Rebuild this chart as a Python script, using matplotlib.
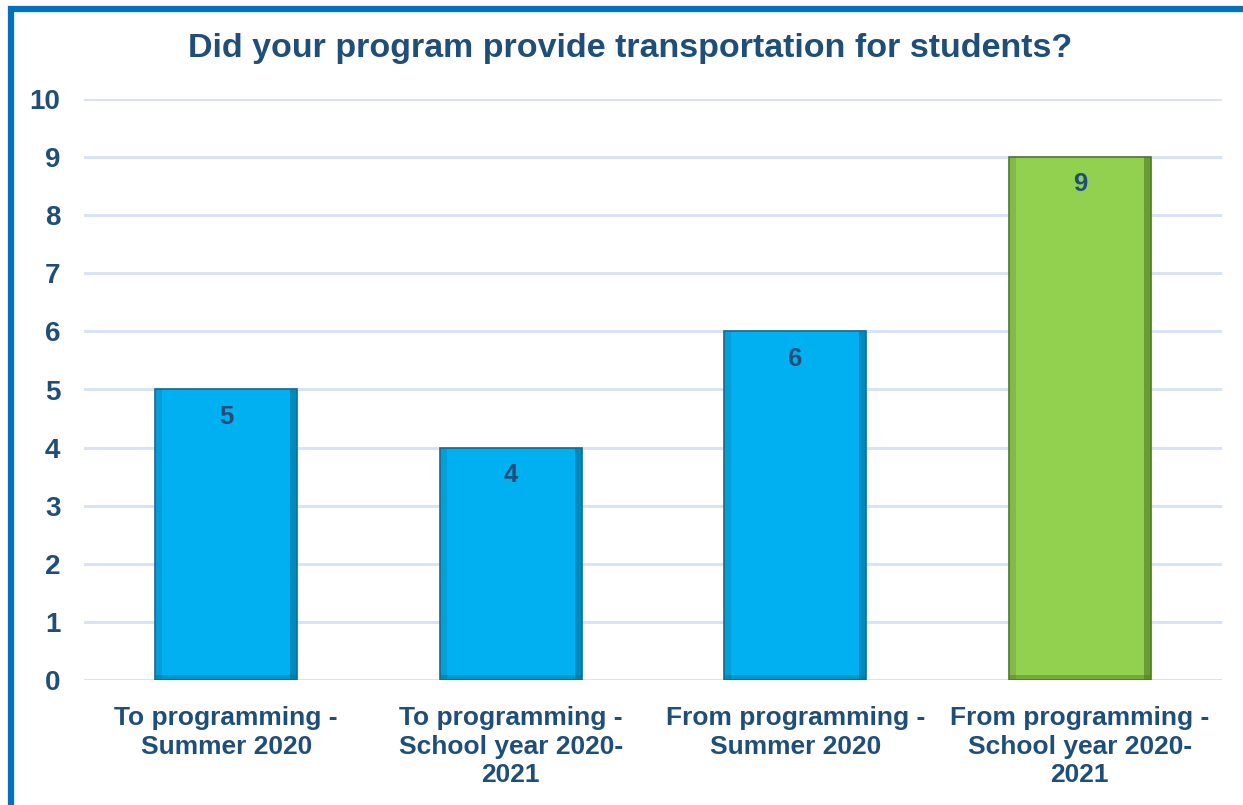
import matplotlib.pyplot as plt
from matplotlib.patches import Rectangle

# chart data
categories = [
    "To programming -\nSummer 2020",
    "To programming -\nSchool year 2020-\n2021",
    "From programming -\nSummer 2020",
    "From programming -\nSchool year 2020-\n2021",
]
values = [5, 4, 6, 9]
bar_colors = ["#00B0F0", "#00B0F0", "#00B0F0", "#92D050"]
shade_colors = ["#0A6E96", "#0A6E96", "#0A6E96", "#4F7A26"]
y_ticks = list(range(0, 11))

TEXT = "#1F4E79"
plt.rcParams["font.family"] = ["Liberation Sans", "DejaVu Sans"]

fig = plt.figure(figsize=(12.43, 8.05), dpi=100)
W, H = 1243, 805
ax = fig.add_axes([84 / W, 125 / H, (1222 - 84) / W, (680 - 99) / H])

x = list(range(len(values)))
width = 0.5

# grid behind bars
for t in y_ticks:
    ax.axhline(t, color="#DAE3F3", lw=2.2, zorder=0)

ax.bar(x, values, width, color=bar_colors, edgecolor=shade_colors, linewidth=1.2, zorder=2)
# bevel: darker right edge strip, lighter left strip, dark bottom strip
strip = 0.025
ax.bar([i + width / 2 - strip / 2 for i in x], values, strip, color=shade_colors, alpha=0.6, zorder=3, linewidth=0)
ax.bar([i - width / 2 + strip / 2 for i in x], values, strip, color=shade_colors, alpha=0.25, zorder=3, linewidth=0)
ax.bar(x, [0.09] * len(values), width, color=shade_colors, alpha=0.45, zorder=3, linewidth=0)

for i, v in zip(x, values):
    ax.text(i, v - 0.47, str(v), ha="center", va="center", fontsize=18.5,
            fontweight="bold", color=TEXT, zorder=4)

ax.set_xlim(-0.5, len(values) - 0.5)
ax.set_ylim(0, 10)
ax.set_yticks(y_ticks)
ax.set_xticks(x)
ax.set_xticklabels(categories, fontsize=19, fontweight="bold", color=TEXT, linespacing=1.22)
ax.tick_params(axis="y", labelsize=20, labelcolor=TEXT, length=0, pad=17)
ax.tick_params(axis="x", length=0, pad=19)
for lab in ax.get_yticklabels():
    lab.set_fontweight("bold")
for s in ax.spines.values():
    s.set_visible(False)

fig.text(630 / W, 1 - 49 / H, "Did your program provide transportation for students?",
         ha="center", va="center", fontsize=24.5, fontweight="bold", color=TEXT)

# outer blue frame (right and bottom run off the picture)
fig.patches.append(Rectangle((11 / W, -0.05), 1.1, 1 - 9 / H + 0.05, transform=fig.transFigure,
                             fill=False, edgecolor="#0070C0", linewidth=4.5))

fig.savefig("out.png", dpi=100)
